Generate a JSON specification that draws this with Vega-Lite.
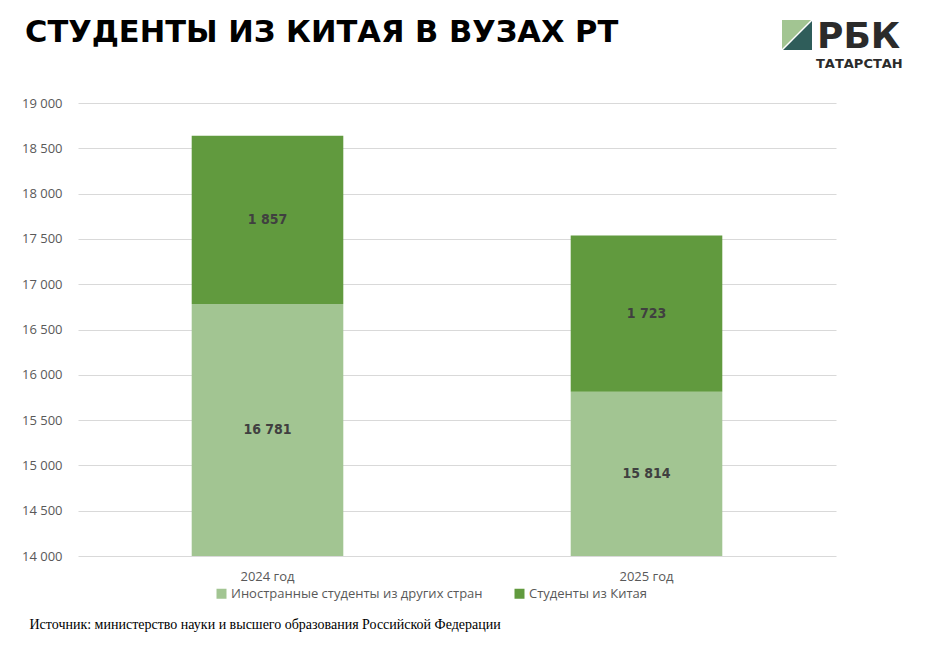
{
  "$schema": "https://vega.github.io/schema/vega-lite/v6.json",
  "description": "Студенты из Китая в вузах РТ",
  "autosize": {"type": "none"},
  "width": 758,
  "height": 453,
  "padding": {"left": 78, "top": 103, "right": 95, "bottom": 98},
  "background": "white",
  "title": {
    "text": "СТУДЕНТЫ ИЗ КИТАЯ В ВУЗАХ РТ",
    "anchor": "start",
    "frame": "group",
    "dx": -53,
    "offset": 0,
    "dy": 53,
    "baseline": "alphabetic",
    "font": "DejaVu Sans",
    "fontSize": 30.5,
    "fontWeight": "bold",
    "color": "black"
  },
  "data": {
    "values": [
      {"year": "2024 год", "group": "Иностранные студенты из других стран", "value": 16781},
      {"year": "2024 год", "group": "Студенты из Китая", "value": 1857},
      {"year": "2025 год", "group": "Иностранные студенты из других стран", "value": 15814},
      {"year": "2025 год", "group": "Студенты из Китая", "value": 1723}
    ]
  },
  "encoding": {
    "x": {
      "field": "year",
      "type": "nominal",
      "scale": {"paddingInner": 0, "paddingOuter": 0},
      "axis": {
        "labelAngle": 0,
        "domain": false,
        "ticks": false,
        "labelPadding": 14,
        "labelFont": "Open Sans",
        "labelFontSize": 13,
        "labelColor": "#595959",
        "title": "Источник: министерство науки и высшего образования Российской Федерации",
        "titleFont": "Liberation Serif",
        "titleFontSize": 14,
        "titleFontWeight": "normal",
        "titleColor": "black",
        "titleAnchor": "start",
        "titleAlign": "left",
        "titleX": -49,
        "titleY": 72,
        "titleBaseline": "alphabetic"
      }
    }
  },
  "layer": [
    {
      "mark": {"type": "bar", "clip": true, "width": {"band": 0.4}},
      "encoding": {
        "y": {
          "field": "value",
          "type": "quantitative",
          "stack": "zero",
          "scale": {"domain": [14000, 19000], "nice": false, "zero": false},
          "axis": {
            "values": [14000, 14500, 15000, 15500, 16000, 16500, 17000, 17500, 18000, 18500, 19000],
            "format": ",.0f",
            "domain": false,
            "ticks": false,
            "labelPadding": 16,
            "labelFont": "Open Sans",
            "labelFontSize": 13,
            "labelColor": "#595959",
            "gridColor": "#d9d9d9",
            "title": null
          }
        },
        "color": {
          "field": "group",
          "type": "nominal",
          "scale": {"range": ["#a2c592", "#619a3e"]},
          "legend": {
            "orient": "none",
            "legendX": 137,
            "legendY": 484,
            "direction": "horizontal",
            "title": null,
            "symbolType": "square",
            "symbolSize": 100,
            "symbolStrokeWidth": 0,
            "labelFont": "Open Sans",
            "labelFontSize": 13,
            "labelColor": "#595959",
            "labelLimit": 400,
            "labelOffset": 3,
            "columnPadding": 30
          }
        },
        "order": {"field": "group", "sort": "ascending"}
      }
    },
    {
      "transform": [
        {"stack": "value", "groupby": ["year"], "sort": [{"field": "group", "order": "ascending"}], "as": ["v0", "v1"]},
        {"calculate": "(max(datum.v0, 14000) + datum.v1) / 2", "as": "mid"}
      ],
      "mark": {
        "type": "text",
        "font": "DejaVu Sans Condensed",
        "fontWeight": "bold",
        "fontSize": 14,
        "color": "#404040",
        "baseline": "middle"
      },
      "encoding": {
        "y": {"field": "mid", "type": "quantitative"},
        "text": {"field": "value", "type": "quantitative", "format": ",.0f"}
      }
    },
    {
      "data": {"values": [{"part": "top"}]},
      "mark": {
        "type": "point",
        "shape": "M -1 -1 L 0.93 -1 L -1 0.93 Z",
        "size": 900,
        "filled": true,
        "color": "#a2c592",
        "opacity": 1
      },
      "encoding": {"x": {"value": 719}, "y": {"value": -68}}
    },
    {
      "data": {"values": [{"part": "bottom"}]},
      "mark": {
        "type": "point",
        "shape": "M 1 1 L -0.93 1 L 1 -0.93 Z",
        "size": 900,
        "filled": true,
        "color": "#2f5d5a",
        "opacity": 1
      },
      "encoding": {"x": {"value": 719}, "y": {"value": -68}}
    },
    {
      "data": {"values": [{"t": "РБК"}]},
      "mark": {"type": "text", "font": "DejaVu Sans", "fontSize": 36, "fontWeight": "bold", "color": "#2b2b2b", "align": "left", "baseline": "alphabetic"},
      "encoding": {"x": {"value": 739}, "y": {"value": -55}, "text": {"field": "t"}}
    },
    {
      "data": {"values": [{"t": "ТАТАРСТАН"}]},
      "mark": {"type": "text", "font": "DejaVu Sans", "fontSize": 13, "fontWeight": "bold", "color": "#2b2b2b", "align": "left", "baseline": "alphabetic"},
      "encoding": {"x": {"value": 738}, "y": {"value": -35}, "text": {"field": "t"}}
    }
  ],
  "config": {
    "view": {"stroke": null},
    "locale": {
      "number": {"decimal": ",", "thousands": " ", "grouping": [3], "currency": ["", ""]}
    }
  }
}
